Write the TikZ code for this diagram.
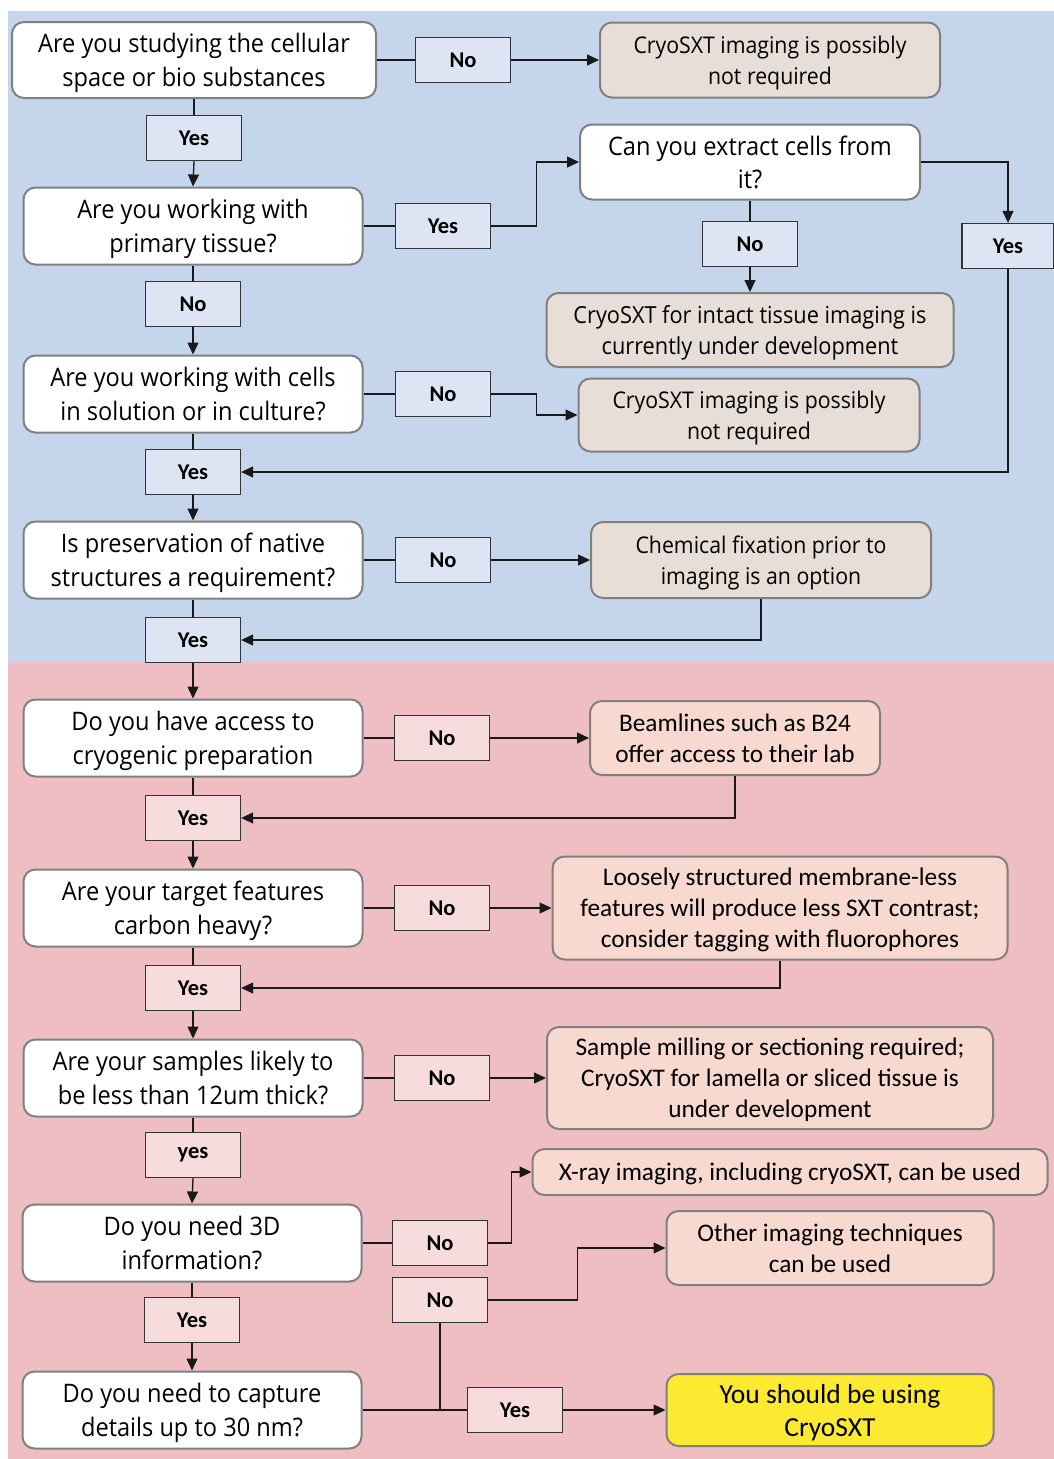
\documentclass[tikz,border=0pt]{standalone}
\usepackage{fontspec}
\setmainfont{Carlito}
\newfontfamily\qf{Open Sans}[FakeStretch=0.925]
\usetikzlibrary{arrows.meta}
\definecolor{bgblue}{RGB}{197,213,236}
\definecolor{lblblue}{RGB}{221,229,244}
\definecolor{resbeige}{RGB}{232,222,216}
\definecolor{bgpink}{RGB}{239,190,194}
\definecolor{lblpink}{RGB}{247,220,222}
\definecolor{respink}{RGB}{247,217,207}
\definecolor{resyellow}{RGB}{252,233,50}
\definecolor{boxgray}{RGB}{128,128,128}
\tikzset{
  qbox/.style={draw=boxgray, line width=2pt, fill=white, rounded corners=12pt, align=center, inner sep=0pt,
    text depth=0pt, minimum width=339pt, minimum height=77pt, font=\qf\fontsize{25.5}{34}\selectfont},
  rbox/.style={draw=boxgray, line width=2pt, fill=resbeige, rounded corners=12pt, align=center, inner sep=0pt,
    text depth=0pt, font=\qf\fontsize{23}{31}\selectfont},
  pbox/.style={draw=boxgray, line width=2pt, fill=respink, rounded corners=12pt, align=center, inner sep=0pt,
    text depth=0pt, font=\fontsize{25.3}{31}\selectfont},
  lblb/.style={draw=black!80, line width=1.3pt, fill=lblblue, inner sep=0pt, minimum width=95pt, minimum height=45pt,
    font=\bfseries\fontsize{22.5}{26}\selectfont},
  lblp/.style={lblb, fill=lblpink},
  ln/.style={draw=black!90, line width=1.3pt},
  arr/.style={ln, -{Triangle[length=12pt,width=11pt]}},
}
\begin{document}
\begin{tikzpicture}[x=1pt,y=-1pt]
\useasboundingbox (0,0) rectangle (1054,1459);
\fill[white] (0,0) rectangle (1054,1459);
\fill[bgblue] (8,11) rectangle (1054,662);
\fill[bgpink] (8,662) rectangle (1054,1459);

% ---- blue section ----
\node[qbox, minimum width=364pt, minimum height=76pt] (q1) at (194,60) {Are you studying the cellular\\space or bio substances};
\node[lblb] (n1) at (463,60) {No};
\node[rbox, minimum width=340pt, minimum height=75pt] (r1) at (770,60) {CryoSXT imaging is possibly\\not required};
\node[lblb] (y1) at (194,138) {Yes};

\node[qbox] (q2) at (193,226) {Are you working with\\primary tissue?};
\node[lblb] (y2) at (443,226) {Yes};
\node[qbox, minimum width=340pt, minimum height=75pt, font=\qf\fontsize{25.5}{33}\selectfont] (q3) at (750,162) {Can you extract cells from\\it?};
\node[lblb] (n3) at (750,244) {No};
\node[rbox, minimum width=407pt, minimum height=74pt, font=\qf\fontsize{23.5}{31}\selectfont] (r3) at (750,330) {CryoSXT for intact tissue imaging is\\currently under development};
\node[lblb, minimum width=92pt] (yr) at (1008,246) {Yes};

\node[lblb] (n2) at (193,304) {No};
\node[qbox] (q4) at (193,394) {Are you working with cells\\in solution or in culture?};
\node[lblb] (n4) at (443,394) {No};
\node[rbox, minimum width=341pt, minimum height=73pt] (r4) at (749,415) {CryoSXT imaging is possibly\\not required};
\node[lblb] (y4) at (193,472) {Yes};

\node[qbox] (q5) at (193,560) {Is preservation of native\\structures a requirement?};
\node[lblb] (n5) at (443,560) {No};
\node[rbox, minimum width=340pt, minimum height=76pt] (r5) at (761,560) {Chemical fixation prior to\\imaging is an option};
\node[lblb] (y5) at (193,640) {Yes};

% ---- pink section ----
\node[qbox] (q6) at (193,738) {Do you have access to\\cryogenic preparation};
\node[lblp] (n6) at (442,738) {No};
\node[pbox, minimum width=290pt, minimum height=74pt] (r6) at (735,738) {Beamlines such as B24\\offer access to their lab};
\node[lblp] (y6) at (193,818) {Yes};

\node[qbox] (q7) at (193,908) {Are your target features\\carbon heavy?};
\node[lblp] (n7) at (442,908) {No};
\node[pbox, minimum width=455pt, minimum height=103pt] (r7) at (780,908) {Loosely structured membrane-less\\features will produce less SXT contrast;\\consider tagging with fluorophores};
\node[lblp] (y7) at (193,988) {Yes};

\node[qbox] (q8) at (193,1078) {Are your samples likely to\\be less than 12um thick?};
\node[lblp] (n8) at (442,1078) {No};
\node[pbox, minimum width=446pt, minimum height=102pt] (r8) at (770,1078) {Sample milling or sectioning required;\\CryoSXT for lamella or sliced tissue is\\under development};
\node[lblp] (y8) at (193,1155) {yes};

\node[qbox] (q9) at (192,1243) {Do you need 3D\\information?};
\node[lblp] (n9) at (440,1243) {No};
\node[pbox, minimum width=515pt, minimum height=46pt] (r9) at (790,1172) {X-ray imaging, including cryoSXT, can be used};
\node[lblp] (y9) at (192,1320) {Yes};

\node[qbox] (q10) at (192,1410) {Do you need to capture\\details up to 30 nm?};
\node[lblp] (n10) at (440,1300) {No};
\node[pbox, minimum width=327pt, minimum height=74pt] (r10) at (830,1248) {Other imaging techniques\\can be used};
\node[lblp] (y10) at (515,1410) {Yes};
\node[pbox, fill=resyellow, minimum width=327pt, minimum height=72pt, font=\fontsize{27.5}{33}\selectfont] (r11) at (830,1410) {You should be using\\CryoSXT};
\coordinate (j) at (n10.south |- q10.east);

% ---- connectors ----
\draw[ln] (q1.east) -- (n1.west);
\draw[arr] (n1.east) -- (r1.west);
\draw[ln] (q1.south) -- (y1.north);
\draw[arr] (y1.south) -- (q2.north);
\draw[ln] (q2.east) -- (y2.west);
\draw[arr] (y2.east) -- ++(45,0) |- (q3.west);
\draw[ln] (q3.south) -- (n3.north);
\draw[arr] (n3.south) -- (r3.north);
\draw[arr] (q3.east) -| (yr.north);
\draw[arr] (yr.south) |- (y4.east);
\draw[ln] (q2.south) -- (n2.north);
\draw[arr] (n2.south) -- (q4.north);
\draw[ln] (q4.east) -- (n4.west);
\draw[arr] (n4.east) -- ++(45,0) |- (r4.west);
\draw[ln] (q4.south) -- (y4.north);
\draw[arr] (y4.south) -- (q5.north);
\draw[ln] (q5.east) -- (n5.west);
\draw[arr] (n5.east) -- (r5.west);
\draw[ln] (q5.south) -- (y5.north);
\draw[arr] (r5.south) |- (y5.east);
\draw[arr] (y5.south) -- (q6.north);

\draw[ln] (q6.east) -- (n6.west);
\draw[arr] (n6.east) -- (r6.west);
\draw[ln] (q6.south) -- (y6.north);
\draw[arr] (r6.south) |- (y6.east);
\draw[arr] (y6.south) -- (q7.north);
\draw[ln] (q7.east) -- (n7.west);
\draw[arr] (n7.east) -- (r7.west);
\draw[ln] (q7.south) -- (y7.north);
\draw[arr] (r7.south) |- (y7.east);
\draw[arr] (y7.south) -- (q8.north);
\draw[ln] (q8.east) -- (n8.west);
\draw[arr] (n8.east) -- (r8.west);
\draw[ln] (q8.south) -- (y8.north);
\draw[arr] (y8.south) -- (q9.north);
\draw[ln] (q9.east) -- (n9.west);
\draw[arr] (n9.east) -- ++(23,0) |- (r9.west);
\draw[ln] (q9.south) -- (y9.north);
\draw[arr] (y9.south) -- (q10.north);
\draw[ln] (q10.east) -- (j) -- (y10.west);
\draw[ln] (j) -- (n10.south);
\draw[arr] (n10.east) -- ++(89,0) |- (r10.west);
\draw[arr] (y10.east) -- (r11.west);
\end{tikzpicture}
\end{document}
